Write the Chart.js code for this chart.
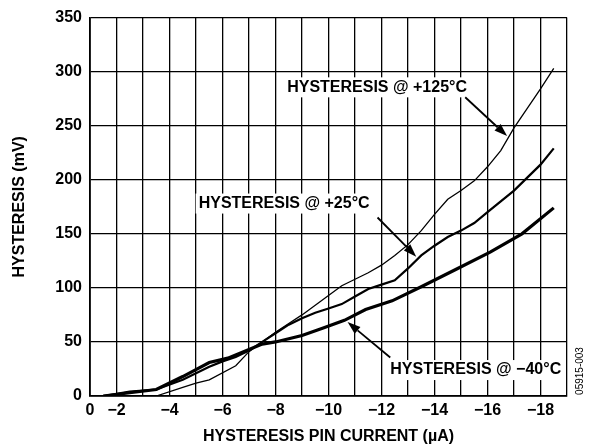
<!DOCTYPE html>
<html>
<head>
<meta charset="utf-8">
<script src="https://cdn.jsdelivr.net/npm/chart.js@4.4.0/dist/chart.umd.min.js"></script>
<style>
  html, body { margin: 0; padding: 0; background: #fff; }
</style>
</head>
<body>
<canvas id="chart" width="590" height="447"></canvas>
<script>
// hysteresis pin current (uA) vs hysteresis (mV)
const current125 = [-1.5, -3.5, -4.5, -5, -5.5, -6.5, -7, -7.5, -8, -8.5, -9, -9.5, -10, -10.5, -11, -11.5, -12, -12.5, -13, -13.5, -14, -14.5, -15, -15.5, -16, -16.5, -17, -17.5, -18, -18.5];
const hyst125 = [0, 0, 8, 12, 15, 28, 41, 50, 59, 67, 75, 84, 93, 102, 108, 114, 121, 130, 140, 153, 168, 182, 190, 199, 212, 227, 248, 266, 284, 303];

const current25 = [-1.5, -2.5, -3.5, -4.5, -5.5, -6, -6.5, -7, -7.5, -8, -8.5, -9, -9.5, -10, -10.5, -11, -11.5, -12, -12.5, -13, -13.5, -14, -14.5, -15, -15.5, -16, -16.5, -17, -17.5, -18, -18.5];
const hyst25 = [0, 4, 6, 15, 27, 32, 36, 42, 50, 58, 66, 72, 77, 81, 85, 92, 99, 103, 107, 118, 130, 139, 147, 153, 160, 170, 180, 190, 202, 214, 229];

const currentM40 = [-1.5, -2.5, -3.5, -4.5, -5.5, -6.2, -7, -7.5, -8, -8.5, -9, -9.8, -10.6, -11.4, -12.4, -13.5, -14.8, -16.1, -17.3, -18.5];
const hystM40 = [0, 3, 6, 18, 31, 35, 43, 48, 50, 53, 56, 63, 70, 80, 88, 101, 117, 133, 150, 174];

// x tick labels (the first grid line is labelled 0)
const xTickValues = [-1, -2, -4, -6, -8, -10, -12, -14, -16, -18];
const xTickText = ['0', '\u22122', '\u22124', '\u22126', '\u22128', '\u221210', '\u221212', '\u221214', '\u221216', '\u221218'];

const notes = [
  { text: 'HYSTERESIS @ +125°C', x: -8.44, y: 285.5, from: [-15.16, 276.3], to: [-16.74, 240.4] },
  { text: 'HYSTERESIS @ +25°C', x: -5.1, y: 178, from: [-11.85, 165.1], to: [-13.31, 128.9] },
  { text: 'HYSTERESIS @ \u221240°C', x: -12.33, y: 24, from: [-12.33, 35.6], to: [-10.72, 68.4] }
];

const FONT = '"Liberation Sans", Arial, sans-serif';
const SIZE = 16;

function pairs(xs, ys){
    let out = [];
    for(let i = 0; i < xs.length; i++)
        out.push({x: xs[i], y: ys[i]});
    return out;
}

const notesPlugin = {
    id: 'notes',
    afterDatasetsDraw(chart){
        const ctx = chart.ctx;
        const sx = chart.scales.x, sy = chart.scales.y;
        ctx.save();
        ctx.font = 'bold ' + SIZE + 'px ' + FONT;
        ctx.textBaseline = 'middle';
        ctx.textAlign = 'left';
        notes.forEach(n => {
            let px = sx.getPixelForValue(n.x), py = sy.getPixelForValue(n.y);
            let w = ctx.measureText(n.text).width;
            ctx.fillStyle = '#fff';
            ctx.fillRect(px - 3, py - 10, w + 6, 20);
            ctx.fillStyle = '#000';
            ctx.fillText(n.text, px, py);

            let x1 = sx.getPixelForValue(n.from[0]), y1 = sy.getPixelForValue(n.from[1]);
            let x2 = sx.getPixelForValue(n.to[0]), y2 = sy.getPixelForValue(n.to[1]);
            let a = Math.atan2(y2 - y1, x2 - x1);
            let len = 13, half = 4.5;
            ctx.strokeStyle = '#000';
            ctx.lineWidth = 1.8;
            ctx.beginPath();
            ctx.moveTo(x1, y1);
            ctx.lineTo(x2 - Math.cos(a) * len, y2 - Math.sin(a) * len);
            ctx.stroke();
            ctx.beginPath();
            ctx.moveTo(x2, y2);
            ctx.lineTo(x2 - Math.cos(a) * len - Math.sin(a) * half, y2 - Math.sin(a) * len + Math.cos(a) * half);
            ctx.lineTo(x2 - Math.cos(a) * len + Math.sin(a) * half, y2 - Math.sin(a) * len - Math.cos(a) * half);
            ctx.closePath();
            ctx.fill();
        });
        // figure code at the right edge
        ctx.font = '10px ' + FONT;
        ctx.textAlign = 'center';
        ctx.translate(chart.chartArea.right + 13, chart.chartArea.bottom - 25);
        ctx.rotate(-Math.PI / 2);
        ctx.fillText('05915-003', 0, 0);
        ctx.restore();
    }
};

const data = {
    datasets: [
        { label: '+125°C', data: pairs(current125, hyst125), borderColor: '#000', borderWidth: 1.3 },
        { label: '+25°C', data: pairs(current25, hyst25), borderColor: '#000', borderWidth: 2.2 },
        { label: '\u221240°C', data: pairs(currentM40, hystM40), borderColor: '#000', borderWidth: 3.2 }
    ]
};

const config = {
    type: 'line',
    data: data,
    options: {
        responsive: false,
        animation: false,
        layout: { padding: { top: 16, right: 23, left: 0, bottom: 0 } },
        elements: { point: { radius: 0 }, line: { tension: 0, fill: false } },
        plugins: { legend: { display: false }, tooltip: { enabled: false } },
        scales: {
            x: {
                type: 'linear',
                min: -19,
                max: -1,
                reverse: true,
                afterFit: s => { s.height = 51; },
                afterBuildTicks: s => {
                    let t = [];
                    for(let v = -1; v >= -19; v--) t.push({value: v});
                    s.ticks = t;
                },
                ticks: {
                    autoSkip: false,
                    maxRotation: 0,
                    padding: 5,
                    color: '#000',
                    font: { family: FONT, size: SIZE, weight: 'bold' },
                    callback: v => {
                        let i = xTickValues.indexOf(v);
                        return i >= 0 ? xTickText[i] : '';
                    }
                },
                grid: { color: '#000', lineWidth: 1.3, drawTicks: false },
                border: { color: '#000', width: 1.8 },
                title: {
                    display: true,
                    text: 'HYSTERESIS PIN CURRENT (µA)',
                    color: '#000',
                    font: { family: FONT, size: SIZE, weight: 'bold' },
                    padding: { top: 0, bottom: 1 }
                }
            },
            y: {
                min: 0,
                max: 350,
                afterFit: s => { s.width = 90; },
                ticks: {
                    stepSize: 50,
                    padding: 8,
                    color: '#000',
                    font: { family: FONT, size: SIZE, weight: 'bold' }
                },
                grid: { color: '#000', lineWidth: 1.3, drawTicks: false },
                border: { color: '#000', width: 1.8 },
                title: {
                    display: true,
                    text: 'HYSTERESIS (mV)',
                    color: '#000',
                    font: { family: FONT, size: SIZE, weight: 'bold' },
                    padding: { top: 10, bottom: 0 }
                }
            }
        }
    },
    plugins: [notesPlugin]
};

new Chart(document.getElementById('chart').getContext('2d'), config);
</script>
</body>
</html>
